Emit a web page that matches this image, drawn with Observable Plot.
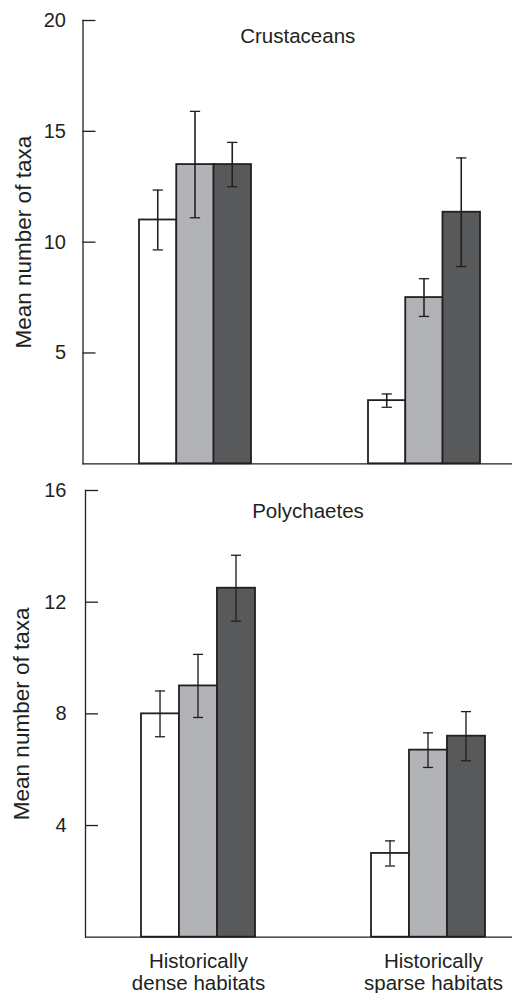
<!DOCTYPE html>
<html>
<head>
<meta charset="utf-8">
<script src="https://cdn.jsdelivr.net/npm/d3@7"></script>
<script src="https://cdn.jsdelivr.net/npm/@observablehq/plot@0.6"></script>
<style>
  body { margin: 0; background: #fff; }
  #chart svg { display: block; }
</style>
</head>
<body>
<div id="chart"></div>
<script>
// ---- data ----
const habitats = ["Historically dense habitats", "Historically sparse habitats"];
const habitatLines = [["Historically", "dense habitats"], ["Historically", "sparse habitats"]];
const treatments = ["Treatment 1", "Treatment 2", "Treatment 3"];
const crustaceanMeans = [[11.0, 13.5, 13.5], [2.85, 7.5, 11.35]];
const crustaceanErrors = [[1.35, 2.4, 1.0], [0.3, 0.85, 2.45]];
const polychaeteMeans = [[8.0, 9.0, 12.5], [3.0, 6.7, 7.2]];
const polychaeteErrors = [[0.82, 1.13, 1.18], [0.45, 0.62, 0.88]];
const crustaceanTicks = [5, 10, 15, 20];
const polychaeteTicks = [4, 8, 12, 16];
const yLabel = "Mean number of taxa";

// ---- style ----
const ink = "#231f20";
const fills = ["#ffffff", "#b1b3b6", "#58595b"];
const font = "'Liberation Sans', Arial, Helvetica, sans-serif";
const labelShift = [0, 5];

function panel(o) {
  const width = 512, marginRight = 0;
  const rows = [];
  habitats.forEach((h, hi) => treatments.forEach((t, ti) =>
    rows.push({habitat: h, treatment: t, ti, mean: o.means[hi][ti], err: o.errors[hi][ti]})));
  const bw = d3.scaleBand().domain(habitats)
    .range([o.marginLeft, width - marginRight])
    .paddingInner(o.paddingInner).paddingOuter(o.paddingOuter).align(o.align).bandwidth();
  const third = bw / 3;
  const marks = [];
  treatments.forEach((t, ti) => {
    marks.push(Plot.barY(rows.filter(r => r.ti === ti), {
      x: "habitat", y: "mean", fill: fills[ti], stroke: ink, strokeWidth: 1.8,
      insetLeft: third * ti, insetRight: third * (2 - ti)
    }));
  });
  treatments.forEach((t, ti) => {
    const d = rows.filter(r => r.ti === ti);
    const c = third * ti + third / 2;
    marks.push(Plot.barY(d, {
      x: "habitat", y1: r => r.mean - r.err, y2: r => r.mean + r.err, fill: ink,
      insetLeft: c - 0.65, insetRight: bw - c - 0.65
    }));
    for (const acc of [r => r.mean - r.err, r => r.mean + r.err]) {
      marks.push(Plot.tickY(d, {
        x: "habitat", y: acc, stroke: ink, strokeWidth: 1.3,
        insetLeft: c - 5, insetRight: bw - c - 5
      }));
    }
  });
  marks.push(Plot.ruleY([0], {stroke: ink, strokeWidth: 1.3}));
  marks.push(Plot.frame({anchor: "left", stroke: ink, strokeWidth: 1.3}));
  marks.push(Plot.ruleY(o.ticks, {stroke: ink, strokeWidth: 1.3,
    insetRight: width - o.marginLeft - marginRight - 13}));
  marks.push(Plot.axisY({ticks: o.ticks, tickSize: 0, tickPadding: o.tickPadding,
    label: null, fontSize: 20, fill: ink}));
  marks.push(Plot.text([yLabel], {text: d => d, frameAnchor: "left", rotate: -90,
    dx: o.labelDx, fontSize: 22.5, fill: ink, textAnchor: "middle", lineAnchor: "middle"}));
  marks.push(Plot.text([o.title], {text: d => d, frameAnchor: "top", dx: o.titleDx, dy: o.titleDy,
    lineAnchor: "bottom", fontSize: 20.5, fill: ink}));
  if (o.xLabels) {
    habitats.forEach((h, i) => {
      marks.push(Plot.text([h], {x: d => d, text: () => habitatLines[i].join("\n"),
        frameAnchor: "bottom", lineAnchor: "top", dx: labelShift[i], dy: 15, lineHeight: 1.07,
        fontSize: 20.5, fill: ink}));
    });
  }
  return Plot.plot({
    width, height: o.height, marginLeft: o.marginLeft, marginRight, marginTop: o.marginTop, marginBottom: o.marginBottom,
    x: {domain: habitats, paddingInner: o.paddingInner, paddingOuter: o.paddingOuter, align: o.align, axis: null},
    y: {domain: [0, o.yMax]},
    style: {fontFamily: font, fontSize: "20px", color: ink, background: "white", overflow: "visible"},
    marks
  });
}

const chart = document.getElementById("chart");
chart.append(panel({
  title: "Crustaceans", means: crustaceanMeans, errors: crustaceanErrors, yMax: 20, ticks: crustaceanTicks,
  height: 480, marginLeft: 82.5, marginTop: 20, marginBottom: 16.7,
  paddingInner: 0.513, paddingOuter: 0.1926, align: 0.631,
  tickPadding: 17, labelDx: -59.5, titleDx: 0, titleDy: 22, xLabels: false
}));
chart.append(panel({
  title: "Polychaetes", means: polychaeteMeans, errors: polychaeteErrors, yMax: 16, ticks: polychaeteTicks,
  height: 513, marginLeft: 85, marginTop: 10, marginBottom: 56.3,
  paddingInner: 0.505, paddingOuter: 0.18, align: 0.673,
  tickPadding: 19, labelDx: -63.5, titleDx: 9, titleDy: 27.3, xLabels: true
}));
</script>
</body>
</html>
